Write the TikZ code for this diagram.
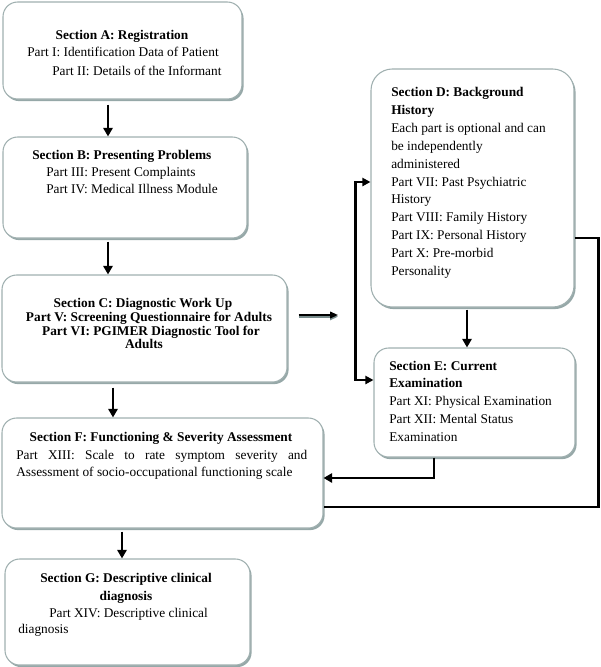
\documentclass[tikz,border=0pt]{standalone}
\usepackage{fontspec}
\setmainfont{Liberation Serif}
\usetikzlibrary{arrows.meta,shadows,calc}
\definecolor{boxline}{RGB}{160,176,176}
\definecolor{shadowc}{RGB}{150,168,168}
\definecolor{arrgray}{RGB}{120,140,140}
\newcommand{\fsz}{\fontsize{10}{13.3}\selectfont}
\begin{document}
\begin{tikzpicture}[x=0.75pt,y=-0.75pt,
  box/.style={draw=boxline, line width=0.8pt, fill=white, rounded corners=11pt,
    drop shadow={shadow xshift=1.2pt, shadow yshift=-1.6pt, fill=shadowc, opacity=1},
    inner sep=0pt},
  tl/.style={anchor=base west, inner sep=0pt, font=\fsz},
  tc/.style={anchor=base, inner sep=0pt, font=\fsz\bfseries},
  tb/.style={anchor=base west, inner sep=0pt, font=\fsz\bfseries},
  conn/.style={line width=1.9pt, black},
  arr/.style={conn, -{Triangle[length=6.5pt,width=7pt]}},
  darr/.style={line width=1.6pt, black, {Triangle[length=6pt,width=6pt]}-{Triangle[length=6pt,width=6pt]}}]
\useasboundingbox (0,0) rectangle (600,667);

% boxes
\node[box, minimum width=179.25pt, minimum height=72.75pt] (A) at (122.5,50.5) {};
\node[box, minimum width=183pt, minimum height=75.75pt] (B) at (125,187.5) {};
\node[box, minimum width=213.75pt, minimum height=80.25pt] (C) at (144.5,328.5) {};
\node[box, minimum width=240.75pt, minimum height=82.5pt] (F) at (162.5,473) {};
\node[box, minimum width=183.75pt, minimum height=79.5pt] (G) at (127.5,612) {};
\node[box, rounded corners=16pt, minimum width=152.25pt, minimum height=178.5pt] (D) at (472.5,188) {};
\node[box, minimum width=150.75pt, minimum height=81.75pt] (E) at (474.5,402.5) {};

% texts A
\node[tc] (a1) at (122,40) {Section A: Registration};
\node[tl] (a2) at (27,57) {Part I: Identification Data of Patient};
\node[tl] (a3) at (52,75) {Part II: Details of the Informant};
% texts B
\node[tb] (b1) at (32,159) {Section B: Presenting Problems};
\node[tl] (b2) at (46,176) {Part III: Present Complaints};
\node[tl] (b3) at (46,193) {Part IV: Medical Illness Module};
% texts C
\node[tc] (c1) at (143,307) {Section C: Diagnostic Work Up};
\node[tc] (c2) at (149,321) {Part V: Screening Questionnaire for Adults};
\node[tc] (c3) at (151,335) {Part VI: PGIMER Diagnostic Tool for};
\node[tc] (c4) at (144,348) {Adults};
% texts F
\node[tc] (f1) at (161,441) {Section F: Functioning \& Severity Assessment};
\node[tl] (f2) at (16,459) {\makebox[218.25pt][s]{Part XIII: Scale to rate symptom severity and}};
\node[tl] (f3) at (16,476) {Assessment of socio-occupational functioning scale};
% texts G
\node[tc] (g1) at (126,582) {Section G: Descriptive clinical};
\node[tc] (g2) at (126,600) {diagnosis};
\node[tl] (g3) at (49,617) {Part XIV: Descriptive clinical};
\node[tl] (g4) at (18,633) {diagnosis};
% texts D
\node[tb] (d1) at (391,97) {Section D: Background};
\node[tb] (d2) at (391,114.8) {History};
\node[tl] (d3) at (391,132.6) {Each part is optional and can};
\node[tl] (d4) at (391,150.4) {be independently};
\node[tl] (d5) at (391,168.2) {administered};
\node[tl] (d6) at (391,186) {Part VII: Past Psychiatric};
\node[tl] (d7) at (391,203.8) {History};
\node[tl] (d8) at (391,221.6) {Part VIII: Family History};
\node[tl] (d9) at (391,239.4) {Part IX: Personal History};
\node[tl] (d10) at (391,257.2) {Part X: Pre-morbid};
\node[tl] (d11) at (391,275) {Personality};
% texts E
\node[tb] (e1) at (389,370) {Section E: Current};
\node[tb] (e2) at (389,387.8) {Examination};
\node[tl] (e3) at (389,405.6) {Part XI: Physical Examination};
\node[tl] (e4) at (389,423.4) {Part XII: Mental Status};
\node[tl] (e5) at (389,441.2) {Examination};

% vertical arrows
\coordinate (ab) at ($(A.south)+(-14.5,5)$);
\coordinate (bc) at ($(B.south)+(-17,3)$);
\coordinate (cf) at ($(C.south)+(-31.5,5)$);
\coordinate (fg) at ($(F.south)+(-40.5,3)$);
\coordinate (de) at ($(D.south)+(-5.5,2)$);
\draw[arr] (ab) -- (ab |- B.north);
\draw[arr] (bc) -- (bc |- C.north);
\draw[arr] (cf) -- (cf |- F.north);
\draw[arr] (fg) -- (fg |- G.north);
\draw[arr] (de) -- (de |- E.north);

% double-line arrow from C
\coordinate (c0) at ($(C.east)+(11,-13.5)$);
\coordinate (cd) at (338,315);
\draw[line width=1.4pt, arrgray, -{Triangle[length=6pt,width=5pt]}] ([yshift=-1.3pt]c0) -- ([yshift=-1.3pt]cd);
\draw[line width=1.2pt, black, -{Triangle[length=6pt,width=5pt]}] (c0) -- (cd);

% bracket to D and E
\coordinate (dw) at ($(D.west)+(0,-6)$);
\coordinate (ew) at ($(E.west)+(0,-22.5)$);
\draw[darr] (dw) -- ++(-15,0) |- (ew);

% E to F
\coordinate (es) at ($(E.south)+(-40.5,0)$);
\coordinate (fe1) at ($(F.east)+(0,5)$);
\draw[arr] (es) |- (fe1);

% D to F
\coordinate (de2) at ($(D.east)+(0,50)$);
\coordinate (fe2) at ($(F.east)+(0,34)$);
\draw[conn] (de2) -- ++(24,0) |- (fe2);
\end{tikzpicture}
\end{document}
